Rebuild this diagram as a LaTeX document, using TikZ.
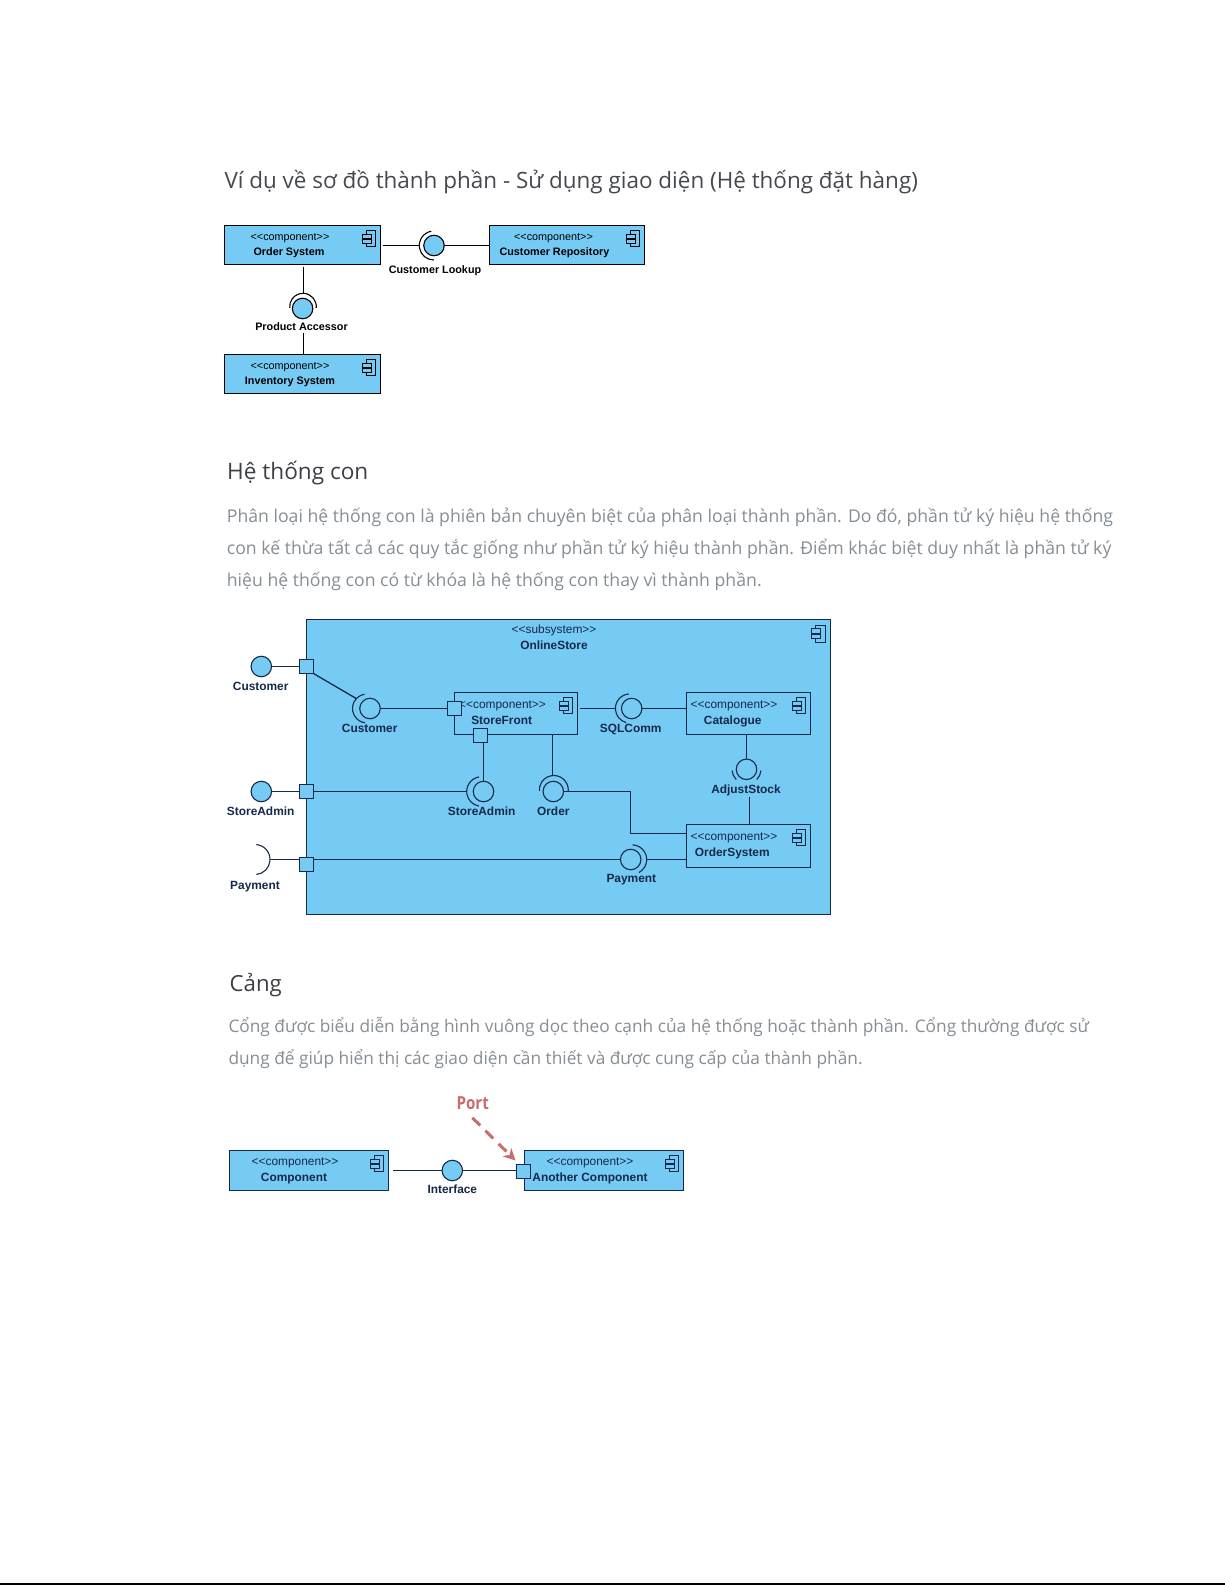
\documentclass[tikz,border=0pt]{standalone}
\usepackage{fontspec}
\setmainfont{Open Sans}
\newfontfamily\labelfont{Liberation Sans}
\usetikzlibrary{arrows.meta}
\definecolor{boxblue}{HTML}{76CBF4}
\definecolor{navy}{HTML}{16294A}
\definecolor{titlegrey}{HTML}{45494E}
\definecolor{headgrey}{HTML}{3C4045}
\definecolor{paragrey}{HTML}{868E95}
\definecolor{portred}{HTML}{C96C6A}
\newcommand{\sockarc}[6][]{\draw[sock,#1] (#2,#3) ++(#4:#6pt) arc[start angle=#4,end angle=#5,radius=#6pt];}
\tikzset{
  compbox/.style={draw=black,fill=boxblue,line width=1.1pt,inner sep=0pt,outer sep=0pt},
  navybox/.style={compbox,draw=navy},
  conn/.style={line width=1.2pt,draw=black},
  navyconn/.style={line width=1.3pt,draw=navy},
  sock/.style={line width=1.1pt,draw=black},
  iface/.style={draw=black,fill=boxblue,circle,line width=1.1pt,minimum size=20.5pt,inner sep=0pt,outer sep=0pt},
  navyiface/.style={iface,draw=navy},
  portbox/.style={draw=navy,fill=boxblue,line width=1.2pt,minimum size=14pt,inner sep=0pt,outer sep=0pt},
  lab/.style={font=\labelfont\fontsize{10.8pt}{12pt}\selectfont,inner sep=0pt,text=black,text height=7.7pt,text depth=0pt},
  labb/.style={lab,font=\labelfont\bfseries\fontsize{10.8pt}{12pt}\selectfont},
  nlab/.style={lab,font=\labelfont\fontsize{11.9pt}{12pt}\selectfont,text=navy,text height=8.3pt},
  nlabb/.style={lab,font=\labelfont\bfseries\fontsize{11.9pt}{12pt}\selectfont,text=navy,text height=8.3pt},
  title/.style={anchor=base west,inner sep=0pt,text=titlegrey,font=\fontsize{22.45pt}{26pt}\selectfont},
  heading/.style={anchor=base west,inner sep=0pt,text=headgrey,font=\fontsize{22.6pt}{28pt}\selectfont},
  para/.style={anchor=base west,inner sep=0pt,text=paragrey,font=\fontsize{17.66pt}{20pt}\selectfont},
  parb/.style={para,font=\fontsize{17.29pt}{20pt}\selectfont},
  compicon/.pic={
    \draw[line width=1pt,draw=#1] (-13.6,5.4) rectangle (-4.6,21.4);
    \draw[line width=1pt,draw=#1,fill=boxblue] (-17.6,8.7) rectangle (-9.3,13);
    \draw[line width=1pt,draw=#1,fill=boxblue] (-17.6,14) rectangle (-9.3,18);
  },
}
\begin{document}
\begin{tikzpicture}[x=1pt,y=-1pt]
\useasboundingbox (0,0) rectangle (1225,1585);
\fill[white] (0,0) rectangle (1225,1585);
\fill[black] (0,1583.4) rectangle (1225,1585);

% ---------- texts ----------
\node[title] (t1) at (224.3,188) {Ví dụ về sơ đồ thành phần - Sử dụng giao diện (Hệ thống đặt hàng)};
\node[heading] (h2) at (227,479.3) {Hệ thống con};
\node[para] (p21) at (226.7,522.7) {Phân loại hệ thống con là phiên bản chuyên biệt của phân loại thành phần. Do đó, phần tử ký hiệu hệ thống};
\node[para] (p22) at (226.7,554.7) {con kế thừa tất cả các quy tắc giống như phần tử ký hiệu thành phần. Điểm khác biệt duy nhất là phần tử ký};
\node[para] (p23) at (226.7,586.7) {hiệu hệ thống con có từ khóa là hệ thống con thay vì thành phần.};
\node[heading,font=\fontsize{22.2pt}{28pt}\selectfont] (h3) at (229.5,991.7) {Cảng};
\node[parb] (p31) at (228.3,1032.7) {Cổng được biểu diễn bằng hình vuông dọc theo cạnh của hệ thống hoặc thành phần. Cổng thường được sử};
\node[parb] (p32) at (228.3,1064) {dụng để giúp hiển thị các giao diện cần thiết và được cung cấp của thành phần.};

% ---------- diagram 1 ----------
\node[compbox,minimum width=156pt,minimum height=39pt] (order) at (302.5,245) {};
\node[compbox,minimum width=155pt,minimum height=39pt] (repo) at (567,245) {};
\node[compbox,minimum width=156pt,minimum height=39pt] (inv) at (302.5,374) {};
\pic at (order.north east) {compicon=black};
\pic at (repo.north east) {compicon=black};
\pic at (inv.north east) {compicon=black};
\node[lab] (order1) at (290,236.3) {<<component>>};
\node[labb] (order2) at (289,251.2) {Order System};
\node[lab] (repo1) at (553.5,236.3) {<<component>>};
\node[labb] (repo2) at (554.5,251.2) {Customer Repository};
\node[lab] (inv1) at (290,365.3) {<<component>>};
\node[labb] (inv2) at (290,380.2) {Inventory System};

\node[iface] (cl) at (434,245.5) {};
\coordinate (clS) at (419.4,245.5);
\sockarc{433.8}{245.5}{100}{270}{14.5}
\draw[conn,shorten <=2.4pt] (order.east |- cl) -- (clS);
\draw[conn] (cl.east) -- (repo.west |- cl);
\node[labb] (cl1) at (435,269.5) {Customer Lookup};

\node[iface] (pa) at (302.6,308.5) {};
\coordinate (paS) at (303.5,293.3);
\sockarc{303}{306.6}{-5}{185}{13.3}
\draw[conn,shorten <=2.4pt] (order.south -| paS) -- (paS);
\node[labb] (pa1) at (301.5,326.5) {Product Accessor};
\coordinate (paB) at (303.5,333.3);
\draw[conn] (paB) -- (inv.north -| paB);

% ---------- diagram 2 ----------
\node[navybox,minimum width=524pt,minimum height=295pt] (store) at (568.5,767) {};
\pic[scale=1.08] at (store.north east) {compicon=navy};
\node[nlab] (store1) at (554,629) {<<subsystem>>};
\node[nlabb] (store2) at (554,645.3) {OnlineStore};

\node[navybox,minimum width=123pt,minimum height=42pt] (front) at (516,713.5) {};
\node[navybox,minimum width=124pt,minimum height=42pt] (cat) at (748.5,713.5) {};
\node[navybox,minimum width=124pt,minimum height=43pt] (os) at (748.5,846) {};
\pic at (front.north east) {compicon=navy};
\pic at (cat.north east) {compicon=navy};
\pic at (os.north east) {compicon=navy};
\node[nlab] (front1) at (502.5,704) {<<component>>};
\node[nlabb] (front2) at (501.7,720.3) {StoreFront};
\node[nlab] (cat1) at (734,704) {<<component>>};
\node[nlabb] (cat2) at (732.7,720.3) {Catalogue};
\node[nlab] (os1) at (734,836.3) {<<component>>};
\node[nlabb] (os2) at (732.3,852.3) {OrderSystem};

% ports
\node[portbox] (pCust) at (306.5,666.5) {};
\node[portbox] (pAdmin) at (306.5,791.5) {};
\node[portbox] (pPay) at (306.5,864.5) {};
\node[portbox] (pSF1) at (454.5,708.5) {};
\node[portbox] (pSF2) at (480.5,735.5) {};

% external interfaces
\node[navyiface] (xCust) at (261.3,666.5) {};
\node[nlabb] (xCust1) at (260.7,686.7) {Customer};
\node[navyiface] (xAdmin) at (261.3,791.5) {};
\node[nlabb] (xAdmin1) at (260.7,811.3) {StoreAdmin};
\sockarc[navy]{255}{859.5}{85}{-85}{15}
\coordinate (xPayTip) at (270,859.5);
\node[nlabb] (xPay1) at (255,885.3) {Payment};
\draw[navyconn] (xCust) -- (pCust);
\draw[navyconn] (xAdmin) -- (pAdmin);
\draw[navyconn] (xPayTip) -- (pPay.west |- xPayTip);

% internal interfaces
\tikzset{sock/.append style={draw=navy,line width=1.1pt}}
\node[navyiface] (iCust) at (370,708.5) {};
\coordinate (iCustS) at (356.7,698.8);
\sockarc{367}{708.5}{100}{262}{14.5}
\node[nlabb] (iCust1) at (369.7,728) {Customer};
\draw[navyconn] (pCust.south east) -- (iCustS);
\draw[navyconn] (iCust.east) -- (pSF1.west);

\node[navyiface] (iAdmin) at (483.5,791.5) {};
\coordinate (iAdminS) at (466.7,791.5);
\sockarc{481.5}{791.5}{100}{260}{14.8}
\node[nlabb] (iAdmin1) at (481.7,811.3) {StoreAdmin};
\draw[navyconn] (pAdmin.east) -- (iAdminS);
\draw[navyconn] (pSF2.south -| iAdmin) -- (iAdmin.north);

\node[navyiface] (iSql) at (631.7,708.5) {};
\coordinate (iSqlS) at (615.4,708.5);
\sockarc{630}{708.5}{95}{255}{14.6}
\node[nlabb] (iSql1) at (630.7,728) {SQLComm};
\draw[navyconn,shorten <=2.3pt] (front.east |- iSql) -- (iSqlS);
\draw[navyconn] (iSql.east) -- (cat.west |- iSql);

\node[navyiface] (iOrder) at (553.3,791.5) {};
\coordinate (iOrderS) at (552.5,775.5);
\sockarc{553.8}{790}{-3}{183}{14.5}
\node[nlabb] (iOrder1) at (553.3,811.3) {Order};
\draw[navyconn] (front.south -| iOrderS) -- (iOrderS);
\coordinate (osIn) at (686.5,833.5);
\draw[navyconn] (iOrder.east) -- (630.5,791.5) |- (osIn);

\node[navyiface] (iPay) at (630.7,859.5) {};
\coordinate (iPayS) at (646.7,859.5);
\sockarc{632}{859.5}{-62}{88}{14.7}
\node[nlabb] (iPay1) at (631.3,878.7) {Payment};
\draw[navyconn] (pPay.east |- iPay) -- (iPay.west);
\draw[navyconn] (iPayS) -- (os.west |- iPayS);

\node[navyiface] (iStock) at (746.5,769.3) {};
\sockarc{746.5}{769.3}{185}{225}{14.5}
\sockarc{746.5}{769.3}{315}{355}{14.5}
\node[nlabb] (iStock1) at (746,789.7) {AdjustStock};
\draw[navyconn] (cat.south -| iStock) -- (iStock.north);
\coordinate (iStockB) at (749.5,797.3);
\draw[navyconn] (iStockB) -- (os.north -| iStockB);

% ---------- diagram 3 ----------
\node[navybox,minimum width=159pt,minimum height=40pt] (comp) at (309,1170.5) {};
\node[navybox,minimum width=159pt,minimum height=40pt] (other) at (604,1170.5) {};
\pic at (comp.north east) {compicon=navy};
\pic at (other.north east) {compicon=navy};
\node[nlab] (comp1) at (295,1161.3) {<<component>>};
\node[nlabb] (comp2) at (294,1177) {Component};
\node[nlab] (other1) at (590,1161.3) {<<component>>};
\node[nlabb] (other2) at (590,1177) {Another Component};
\node[portbox] (pOther) at (523.5,1171.5) {};
\node[navyiface] (ifc) at (452.3,1170.5) {};
\node[nlabb] (ifc1) at (452.3,1189.3) {Interface};
\draw[navyconn,shorten <=4.4pt] (comp.east |- ifc) -- (ifc.west);
\draw[navyconn] (ifc.east) -- (pOther.west |- ifc);
\node[inner sep=0pt,text=portred,font=\bfseries\fontsize{18pt}{20pt}\selectfont] (portlab) at (472.7,1103) {\scalebox{.84}[1]{Port}};
\coordinate (portA) at (472.3,1117.7);
\coordinate (portB) at (515.5,1160.5);
\draw[draw=portred,line width=3pt,dash pattern=on 11pt off 7.5pt,-{Stealth[length=12pt,width=12pt,fill=portred]}] (portA) -- (portB);
\end{tikzpicture}
\end{document}
